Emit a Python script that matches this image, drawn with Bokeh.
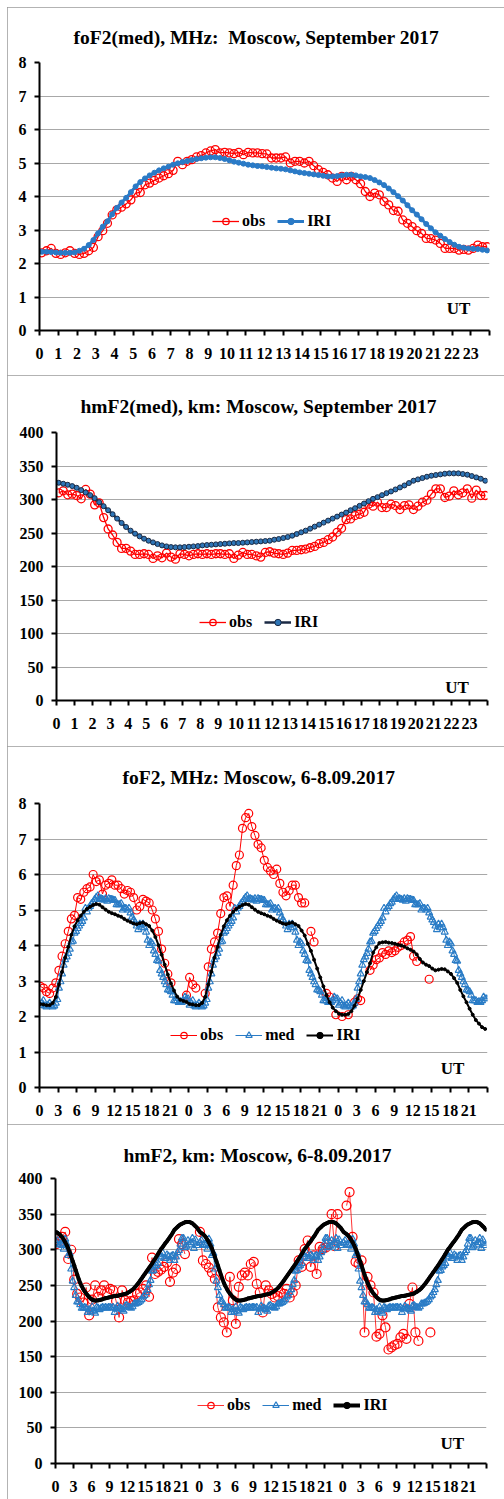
import math
from bokeh.plotting import figure
from bokeh.models import Range1d, FixedTicker, Legend, LegendItem, Label
from bokeh.embed import file_html
from bokeh.resources import INLINE

nan = float("nan")

# ---------------- data ----------------
# 15-min categories of one day (UT hours)
hours_day = [i * 0.25 for i in range(96)]
# 30-min samples over 3 days (6-8.09.2017)
hours_3d_30 = [i * 0.5 for i in range(144)]
# 15-min samples over 3 days
hours_3d_15 = [i * 0.25 for i in range(288)]

# foF2 monthly median (obs), MHz
fof2_med_obs = [
    2.32, 2.38, 2.45, 2.30, 2.27, 2.32, 2.38, 2.30, 2.27, 2.30, 2.38, 2.48,
    2.80, 2.98, 3.20, 3.45, 3.60, 3.68, 3.78, 3.90, 4.10, 4.12, 4.35, 4.40,
    4.48, 4.55, 4.62, 4.68, 4.78, 5.05, 4.95, 5.05, 5.10, 5.18, 5.22, 5.30,
    5.36, 5.40, 5.30, 5.32, 5.30, 5.28, 5.32, 5.25, 5.32, 5.30, 5.30, 5.28,
    5.27, 5.15, 5.15, 5.15, 5.18, 5.00, 5.05, 5.05, 5.00, 5.05, 4.92, 4.80,
    4.72, 4.65, 4.55, 4.45, 4.60, 4.50, 4.60, 4.50, 4.38, 4.15, 4.00, 4.10,
    4.05, 3.85, 3.75, 3.58, 3.56, 3.30, 3.20, 3.10, 2.98, 2.90, 2.75, 2.74,
    2.70, 2.60, 2.45, 2.45, 2.45, 2.40, 2.42, 2.40, 2.45, 2.55, 2.50, 2.50,
]
# foF2 IRI median, MHz
fof2_med_iri = [
    2.35, 2.35, 2.34, 2.33, 2.32, 2.32, 2.32, 2.33, 2.38, 2.44, 2.55, 2.70,
    2.90, 3.10, 3.26, 3.47, 3.66, 3.82, 3.96, 4.13, 4.30, 4.43, 4.54, 4.63,
    4.71, 4.78, 4.84, 4.89, 4.95, 4.99, 5.03, 5.06, 5.09, 5.12, 5.14, 5.16,
    5.17, 5.17, 5.15, 5.12, 5.08, 5.04, 5.01, 4.98, 4.95, 4.93, 4.91, 4.90,
    4.88, 4.86, 4.84, 4.83, 4.81, 4.78, 4.75, 4.72, 4.70, 4.68, 4.66, 4.64,
    4.62, 4.60, 4.60, 4.61, 4.63, 4.65, 4.65, 4.63, 4.60, 4.58, 4.55, 4.49,
    4.42, 4.34, 4.24, 4.13, 4.01, 3.88, 3.74, 3.59, 3.46, 3.32, 3.18, 3.05,
    2.93, 2.83, 2.73, 2.64, 2.56, 2.50, 2.47, 2.45, 2.44, 2.43, 2.41, 2.39,
]
# hmF2 monthly median (obs), km
hmf2_med_obs = [
    310, 313, 307, 308, 306, 301, 315, 308, 292, 295, 273, 256, 247, 236, 227, 227,
    223, 218, 218, 219, 218, 212, 216, 213, 220, 214, 211, 219, 218, 216, 218, 219,
    218, 219, 218, 219, 219, 218, 219, 212, 217, 221, 218, 218, 216, 214, 221, 222,
    220, 219, 218, 220, 224, 224, 225, 226, 228, 230, 234, 236, 240, 244, 251, 257,
    270, 271, 276, 278, 281, 293, 290, 296, 288, 288, 293, 291, 285, 291, 292, 285,
    290, 296, 299, 308, 316, 316, 303, 305, 313, 307, 310, 316, 302, 314, 306, 306,
]
# hmF2 IRI median, km
hmf2_med_iri = [
    325, 323.5, 322, 320, 317.5, 314, 310.5, 306.5, 302, 296, 290, 284, 278, 271.5, 265, 259,
    253.5, 249, 245, 241.5, 238.5, 236, 233.5, 231.5, 230, 229, 228.6, 228.6, 229, 229.5, 230, 230.5,
    231.5, 232, 232.5, 233, 233.5, 234, 234.5, 235, 235, 235.5, 236, 236.5, 237, 237.5, 238, 238.5,
    240, 241, 242.5, 244, 246, 248.5, 251, 253.5, 256.5, 259.5, 262.5, 265.5, 268.5, 271.5, 274.5, 277.5,
    280.5, 284, 287, 290.5, 294, 297.5, 301, 303.5, 306.5, 309.5, 312, 315, 318, 321, 324.5, 328,
    330, 332, 334, 335.5, 336.5, 337.5, 338.5, 339, 339, 339, 338, 337, 335, 333, 331, 328,
]

# foF2 observed 6-8.09.2017 (30-min), MHz
fof2_obs_3d = [
    2.85, 2.80, 2.70, 2.65, 2.80, 2.95, 3.30, 3.70, 4.05, 4.40,
    4.75, 4.85, 5.35, 5.30, 5.50, 5.60, 5.65, 6.00, 5.80, 5.85,
    5.45, 5.70, 5.75, 5.85, 5.70, 5.70, 5.60, 5.45, 5.55, 5.50,
    5.35, 5.00, 5.10, 5.30, 5.25, 5.20, 5.00, 4.75, 4.40, 3.90,
    3.50, 3.20, 2.95, nan, nan, nan, nan, 2.60,
    3.10, 2.90, 2.80, nan, nan, 2.65, 3.40, 3.90, 4.10, 4.35,
    4.90, 5.35, 5.40, 5.10, 5.70, 6.25, 6.55, 7.30, 7.60, 7.72,
    7.35, 7.10, 6.85, 6.75, 6.40, 6.20, 6.10, 6.00, 6.15, 5.75,
    5.50, 5.40, 5.55, 5.70, 5.70, 5.35, 5.20, 5.20, nan, 4.40,
    4.10, nan, nan, nan, 2.65, 2.55, nan, 2.05,
    nan, 2.00, nan, 2.05, nan, 2.40, 2.50, 2.45, nan, nan,
    3.30, 3.45, 3.60, 3.65, 3.80, 3.75, 3.85, 3.80, 3.85, 3.95,
    4.00, 4.10, 4.15, 4.25, 3.70, 3.55, nan, nan, nan, 3.05,
    nan, nan, nan, nan, nan, nan, nan, nan, nan,
    nan, nan, nan, nan, nan, nan, nan, nan, nan,
]
# foF2 IRI 6-8.09.2017 (30-min), MHz
fof2_iri_3d = [
    2.35, 2.34, 2.32, 2.32, 2.38, 2.55, 2.90, 3.26, 3.66, 3.96,
    4.30, 4.54, 4.71, 4.84, 4.95, 5.03, 5.09, 5.14, 5.17, 5.15,
    5.08, 5.01, 4.95, 4.91, 4.88, 4.84, 4.81, 4.75, 4.70, 4.66,
    4.62, 4.60, 4.63, 4.65, 4.60, 4.55, 4.42, 4.24, 4.01, 3.74,
    3.46, 3.18, 2.93, 2.73, 2.56, 2.47, 2.44, 2.41,
    2.35, 2.34, 2.32, 2.32, 2.38, 2.55, 2.90, 3.26, 3.66, 3.96,
    4.30, 4.54, 4.71, 4.84, 4.95, 5.03, 5.09, 5.14, 5.17, 5.15,
    5.08, 5.01, 4.95, 4.91, 4.88, 4.84, 4.81, 4.75, 4.70, 4.66,
    4.62, 4.60, 4.63, 4.65, 4.60, 4.55, 4.42, 4.28, 4.05, 3.85,
    3.60, 3.35, 3.10, 2.85, 2.60, 2.40, 2.25, 2.15,
    2.08, 2.05, 2.05, 2.07, 2.15, 2.30, 2.50, 2.75, 3.00, 3.25,
    3.50, 3.80, 3.95, 4.07, 4.09, 4.10, 4.08, 4.07, 4.05, 4.02,
    4.00, 3.97, 3.92, 3.88, 3.83, 3.75, 3.62, 3.52, 3.46, 3.42,
    3.35, 3.30, 3.32, 3.34, 3.33, 3.27, 3.20, 3.08, 2.95, 2.75,
    2.57, 2.40, 2.22, 2.05, 1.90, 1.80, 1.70, 1.65,
]
# hmF2 observed 6-8.09.2017 (30-min), km
hmf2_obs_3d = [
    308, 311, 318, 325, 287, 300, 258, 238, 233, 226,
    247, 208, 230, 250, 234, 243, 250, 240, 245, 243,
    228, 205, 243, 229, 226, 228, 229, 238, 240, 245,
    250, 234, 289, 266, 269, 272, 276, 282, 255, 268,
    273, 315, 308, 294, nan, nan, nan, nan,
    325, 285, 280, 275, 268, 259, 219, 205, 198, 184,
    262, 229, 196, 248, 264, 268, 264, 280, 283, 252,
    240, 212, 250, 243, 238, 233, 235, 240, 238, 245,
    233, 240, 250, 285, 276, 301, 313, 276, 292, 266,
    304, 301, 303, 308, 350, 305, 350, nan,
    nan, 362, 381, 318, 283, 280, 285, 184, 262, 250,
    240, 178, 182, 208, 191, 160, 163, 166, 168, 177,
    182, 175, 224, 247, 184, 172, nan, nan, nan, 184,
    nan, nan, nan, nan, nan, nan, nan, nan, nan,
    nan, nan, nan, nan, nan, nan, nan, nan, nan,
]
# monthly medians repeated for each of the three days
fof2_med_3d = fof2_med_obs * 3
hmf2_med_3d = hmf2_med_obs * 3
hmf2_iri_3d = hmf2_med_iri * 3

day_hour_ticks = list(range(0, 25))
day_hour_labels = [str(h) for h in range(24)] + [""]
three_day_ticks = list(range(0, 73, 3))
three_day_labels = [str(h % 24) for h in range(0, 72, 3)] + [""]

titles = [
    "foF2(med), MHz:\u00a0 Moscow, September 2017",
    "hmF2(med), km: Moscow, September 2017",
    "foF2, MHz: Moscow, 6-8.09.2017",
    "hmF2, km: Moscow, 6-8.09.2017",
]

FONT = "Liberation Serif"
RED = "#FF0000"
BLUE = "#2A7AC6"
MEDBLUE = "#2A7CC6"


def centred(hours):
    # category centres (Excel category axis, 15-min categories)
    return [h + 0.125 for h in hours]


def make_fig(height, xmax, ymax, ystep, xticks, xlabels, top, bottom, left, right,
             title, title_offset, title_standoff, first=False):
    p = figure(width=497, height=height, x_range=Range1d(0, xmax), y_range=Range1d(0, ymax),
               output_backend="svg", toolbar_location=None,
               min_border_top=top, min_border_bottom=bottom,
               min_border_left=left, min_border_right=right)
    st = {"outline": "1px solid #9a9a9a", "outline-offset": "-1px", "margin-left": "7px"}
    if first:
        st["margin-top"] = "7px"
    p.styles = st
    p.title.text = title
    p.title.align = "left"
    p.title.offset = title_offset
    p.title.text_font = FONT
    p.title.text_font_style = "bold"
    p.title.text_font_size = "19.5px"
    p.title.text_color = "black"
    p.title.standoff = title_standoff
    p.outline_line_color = None
    p.xgrid.visible = False
    p.ygrid.grid_line_color = "#A8A8A8"
    p.ygrid.grid_line_width = 1
    p.xaxis.ticker = FixedTicker(ticks=xticks)
    p.xaxis.major_label_overrides = {t: l for t, l in zip(xticks, xlabels)}
    p.yaxis.ticker = FixedTicker(ticks=list(range(0, ymax + 1, ystep)))
    for ax in (p.xaxis[0], p.yaxis[0]):
        ax.axis_line_width = 2
        ax.axis_line_color = "black"
        ax.major_tick_line_width = 2
        ax.major_tick_line_color = "black"
        ax.major_tick_out = 5
        ax.major_tick_in = 0
        ax.minor_tick_line_color = None
        ax.major_label_text_font = FONT
        ax.major_label_text_font_style = "bold"
        ax.major_label_text_font_size = "16px"
        ax.major_label_text_color = "black"
    p.xaxis.major_label_standoff = 12
    p.yaxis.major_label_standoff = 8
    return p


def add_legend(p, items, x, y):
    lg = Legend(items=items, orientation="horizontal", location=(x, y),
                border_line_color=None, background_fill_alpha=0, padding=0, margin=0,
                spacing=12, label_standoff=3, glyph_width=27, glyph_height=16,
                label_text_font=FONT, label_text_font_style="bold",
                label_text_font_size="16px", label_text_color="black")
    p.add_layout(lg)


def add_ut(p, x, y):
    p.add_layout(Label(x=x, y=y, text="UT", text_font=FONT, text_font_style="bold",
                       text_font_size="17px", text_align="center", text_baseline="middle",
                       text_color="black"))


# ---------- panel 1: foF2 median ----------
p1 = make_fig(368, 24, 8, 1, day_hour_ticks, day_hour_labels, 55, 45, 32, 15,
              titles[0], 34, 30, first=True)
x1 = centred(hours_day)
l1o = p1.line(x1, fof2_med_obs, line_color=RED, line_width=1.3)
s1o = p1.scatter(x1, fof2_med_obs, marker="circle", size=8, fill_color=None,
                 line_color=RED, line_width=1.3)
l1i = p1.line(x1, fof2_med_iri, line_color=BLUE, line_width=3)
s1i = p1.scatter(x1, fof2_med_iri, marker="circle", size=5, fill_color=BLUE, line_color=BLUE)
add_legend(p1, [LegendItem(label="obs", renderers=[l1o, s1o]),
                LegendItem(label="IRI", renderers=[l1i, s1i])], 173, 100)
add_ut(p1, 22.35, 0.66)

# ---------- panel 2: hmF2 median ----------
p2 = make_fig(371, 24, 400, 50, day_hour_ticks, day_hour_labels, 57, 46, 49, 17,
              titles[1], 24, 32)
l2o = p2.line(x1, hmf2_med_obs, line_color=RED, line_width=1.3)
s2o = p2.scatter(x1, hmf2_med_obs, marker="circle", size=8, fill_color=None,
                 line_color=RED, line_width=1.3)
l2i = p2.line(x1, hmf2_med_iri, line_color="#1B2A44", line_width=2.5)
s2i = p2.scatter(x1, hmf2_med_iri, marker="circle", size=5, fill_color="#2E75B6",
                 line_color="#1B2A44", line_width=1)
add_legend(p2, [LegendItem(label="obs", renderers=[l2o, s2o]),
                LegendItem(label="IRI", renderers=[l2i, s2i])], 143, 69)
add_ut(p2, 22.3, 20)

# ---------- panel 3: foF2 6-8.09.2017 ----------
p3 = make_fig(378, 72, 8, 1, three_day_ticks, three_day_labels, 57, 37, 32, 17,
              titles[2], 83, 31)
x30 = centred(hours_3d_30)
x15 = centred(hours_3d_15)
l3o = p3.line(x30, fof2_obs_3d, line_color=RED, line_width=1)
s3o = p3.scatter(x30, fof2_obs_3d, marker="circle", size=8, fill_color=None,
                 line_color=RED, line_width=1.2)
l3m = p3.line(x15, fof2_med_3d, line_color=MEDBLUE, line_width=1)
s3m = p3.scatter(x15, fof2_med_3d, marker="triangle", size=7, fill_color=None,
                 line_color=MEDBLUE, line_width=1.2)
l3i = p3.line(x30, fof2_iri_3d, line_color="black", line_width=2)
s3i = p3.scatter(x30, fof2_iri_3d, marker="circle", size=3, fill_color="black", line_color="black")
add_legend(p3, [LegendItem(label="obs", renderers=[l3o, s3o]),
                LegendItem(label="med", renderers=[l3m, s3m]),
                LegendItem(label="IRI", renderers=[l3i, s3i])], 131, 43)
add_ut(p3, 66.4, 0.54)

# ---------- panel 4: hmF2 6-8.09.2017 ----------
p4 = make_fig(375, 72, 400, 50, three_day_ticks, three_day_labels, 54, 36, 48, 18,
              titles[3], 68, 26)
l4o = p4.line(x30, hmf2_obs_3d, line_color=RED, line_width=0.8)
s4o = p4.scatter(x30, hmf2_obs_3d, marker="circle", size=9, fill_color=None,
                 line_color=RED, line_width=1.2)
l4m = p4.line(x15, hmf2_med_3d, line_color=MEDBLUE, line_width=1)
s4m = p4.scatter(x15, hmf2_med_3d, marker="triangle", size=7, fill_color=None,
                 line_color=MEDBLUE, line_width=1.2)
l4i = p4.line(x15, hmf2_iri_3d, line_color="black", line_width=4)
s4i = p4.scatter(x15, hmf2_iri_3d, marker="circle", size=3, fill_color="black", line_color="black")
add_legend(p4, [LegendItem(label="obs", renderers=[l4o, s4o]),
                LegendItem(label="med", renderers=[l4m, s4m]),
                LegendItem(label="IRI", renderers=[l4i, s4i])], 142, 49)
add_ut(p4, 66.3, 28)

open("out.html", "w").write(file_html([p1, p2, p3, p4], INLINE))
